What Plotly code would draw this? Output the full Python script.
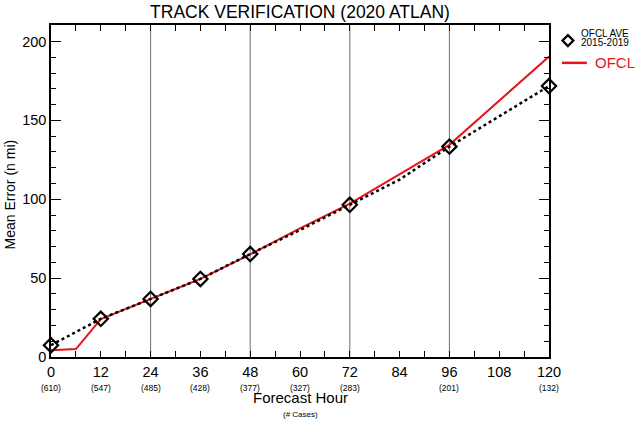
import plotly.graph_objects as go

# OFCL forecast (2020 Atlantic)
ofcl_hours = [0, 6, 12, 24, 36, 48, 60, 72, 84, 96, 120]
ofcl_err = [4.3, 5.0, 24.0, 36.5, 49.5, 65.0, 81.5, 97.2, 116.0, 134.5, 190.5]

# OFCL 5-yr average 2015-2019
ave_hours = [0, 12, 24, 36, 48, 60, 72, 84, 96, 120]
ave_err = [7.5, 24.2, 36.8, 49.5, 65.3, 80.5, 96.5, 112.5, 133.4, 171.8]
marker_hours = [0, 12, 24, 36, 48, 72, 96, 120]
marker_err = [7.5, 24.2, 36.8, 49.5, 65.3, 96.5, 133.4, 171.8]

case_hours = [0, 12, 24, 36, 48, 60, 72, 96, 120]
case_counts = [610, 547, 485, 428, 377, 327, 283, 201, 132]

grid_hours = [24, 48, 72, 96]

FONT = "Liberation Sans, Arial, Helvetica, sans-serif"

fig = go.Figure()

fig.add_trace(go.Scatter(
    x=ofcl_hours, y=ofcl_err, mode="lines",
    line=dict(color="#e8141c", width=2), cliponaxis=False, showlegend=False
))
fig.add_trace(go.Scatter(
    x=ave_hours, y=ave_err, mode="lines",
    line=dict(color="black", width=2.5, dash="dot"), cliponaxis=False, showlegend=False
))
fig.add_trace(go.Scatter(
    x=marker_hours, y=marker_err, mode="markers",
    marker=dict(symbol="diamond-open", size=11, color="black", line=dict(width=2.2, color="black")),
    cliponaxis=False, showlegend=False
))

# vertical grid lines every 24 h
for h in grid_hours:
    fig.add_shape(type="line", xref="x", yref="paper", x0=h, x1=h, y0=0, y1=1,
                  line=dict(color="#707070", width=1), layer="below")

# case counts under each tick
for h, n in zip(case_hours, case_counts):
    fig.add_annotation(x=h, y=0, xref="x", yref="paper", text=f"({n})", showarrow=False,
                       yanchor="middle", yshift=-30.5, font=dict(size=8.5, color="black"))

fig.add_annotation(x=0.5, y=0, xref="paper", yref="paper", text="Forecast Hour", showarrow=False,
                   xanchor="center", yanchor="middle", yshift=-40, font=dict(size=15, color="black"))
fig.add_annotation(x=0.5, y=0, xref="paper", yref="paper", text="(# Cases)", showarrow=False,
                   xanchor="center", yanchor="middle", yshift=-57.5, font=dict(size=8, color="black"))
fig.add_annotation(x=-0.082, y=0.49, xref="paper", yref="paper", text="Mean Error (n mi)",
                   xanchor="center", yanchor="middle",
                   showarrow=False, textangle=-90, font=dict(size=14, color="black"))

# legend, drawn by hand
fig.add_shape(type="path", xref="paper", yref="paper", xsizemode="pixel", ysizemode="pixel",
              xanchor=1.038, yanchor=0.953, path="M -5.5 0 L 0 5.5 L 5.5 0 L 0 -5.5 Z",
              line=dict(color="black", width=2.2))
fig.add_annotation(x=1.061, y=0.975, xref="paper", yref="paper", text="OFCL AVE", showarrow=False,
                   xanchor="left", yanchor="middle", font=dict(size=10, color="black"))
fig.add_annotation(x=1.061, y=0.947, xref="paper", yref="paper", text="2015-2019", showarrow=False,
                   xanchor="left", yanchor="middle", font=dict(size=10, color="black"))
fig.add_shape(type="line", xref="paper", yref="paper", x0=1.026, x1=1.076, y0=0.886, y1=0.886,
              line=dict(color="#e8141c", width=2.5))
fig.add_annotation(x=1.088, y=0.886, xref="paper", yref="paper", text="OFCL", showarrow=False,
                   xanchor="left", yanchor="middle", font=dict(size=15, color="#e8141c"))

fig.update_layout(
    width=639, height=426,
    margin=dict(l=51, r=90, t=25, b=68.5),
    paper_bgcolor="white", plot_bgcolor="white",
    font=dict(family=FONT, color="black"),
    title=dict(text="TRACK VERIFICATION (2020 ATLAN)", x=300 / 639, xanchor="center",
               y=1 - 12 / 426, yanchor="middle", font=dict(size=17.5, color="black")),
    showlegend=False,
)
fig.update_xaxes(
    range=[0, 120], tick0=0, dtick=12, ticks="inside", ticklen=6, tickwidth=1, tickcolor="black",
    minor=dict(dtick=6, ticks="inside", ticklen=6, tickwidth=1, tickcolor="black"),
    showline=True, linecolor="black", linewidth=1.5, mirror="ticks",
    showgrid=False, zeroline=False, tickfont=dict(size=14.5), ticklabelstandoff=1,
)
fig.update_yaxes(
    range=[0, 210.5], tick0=0, dtick=50, ticks="inside", ticklen=10, tickwidth=1, tickcolor="black",
    minor=dict(dtick=10, ticks="inside", ticklen=5, tickwidth=1, tickcolor="black"),
    showline=True, linecolor="black", linewidth=1.5, mirror="ticks",
    showgrid=False, zeroline=False, tickfont=dict(size=14.5),
)

# drop the page's default body margin so the figure sits at the window corner
fig.write_html("out.html", config={"displayModeBar": False},
               post_script="document.body.style.margin='0';")
